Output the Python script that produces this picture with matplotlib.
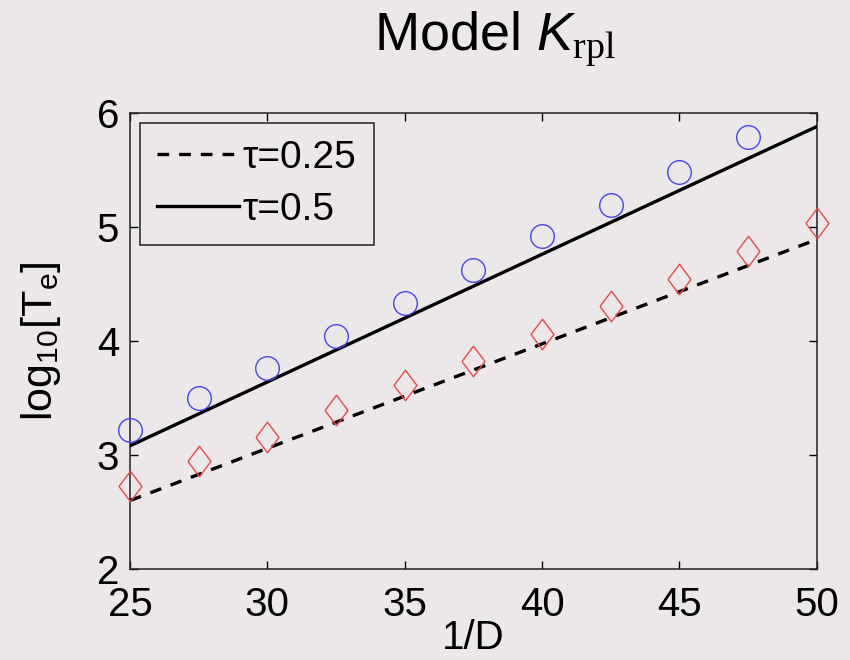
import numpy as np
import matplotlib
matplotlib.use("Agg")
import matplotlib.pyplot as plt

# ── Datos ──────────────────────────────────────────────────────────────────
inv_d_circ = [25, 27.5, 30, 32.5, 35, 37.5, 40, 42.5, 45, 47.5]
te_circ    = [3.22, 3.50, 3.76, 4.04, 4.33, 4.62, 4.92, 5.19, 5.48, 5.79]

inv_d_diam = [25, 27.5, 30, 32.5, 35, 37.5, 40, 42.5, 45, 47.5, 50]
te_diam    = [2.73, 2.95, 3.16, 3.39, 3.61, 3.82, 4.06, 4.31, 4.54, 4.79, 5.03]

line_x      = [25, 50]
line_tau050 = [3.08, 5.88]
line_tau025 = [2.60, 4.89]

xticks = [25, 30, 35, 40, 45, 50]
yticks = [2, 3, 4, 5, 6]

# ── Estilo ─────────────────────────────────────────────────────────────────
BG = "#ece8ea"
plt.rcParams["font.family"] = ["Liberation Sans", "DejaVu Sans"]
plt.rcParams["mathtext.fontset"] = "custom"
plt.rcParams["mathtext.rm"] = "Liberation Sans"
plt.rcParams["mathtext.it"] = "Liberation Sans:italic"
plt.rcParams["mathtext.tt"] = "Liberation Serif"   # subíndice serif del título

fig = plt.figure(figsize=(8.5, 6.6), dpi=100, facecolor=BG)
ax = fig.add_axes([0.153, 0.138, 0.808, 0.691], facecolor=BG)

ax.plot(line_x, line_tau025, color="black", lw=2.4, ls=(0, (3.5, 3)),
        label="τ=0.25", zorder=3)
ax.plot(line_x, line_tau050, color="black", lw=2.4, ls="-",
        label="τ=0.5", zorder=3)

ax.plot(inv_d_circ, te_circ, ls="none", marker="o", ms=17, mfc="none",
        mec="#4646e6", mew=1.0, zorder=4, clip_on=False)
diamond = [(-0.75, 0), (0, 1), (0.75, 0), (0, -1), (-0.75, 0)]
ax.plot(inv_d_diam, te_diam, ls="none", marker=diamond, ms=22, mfc="none",
        mec="#e34a4a", mew=1.0, zorder=4, clip_on=False)

ax.set_xlim(25, 50)
ax.set_ylim(2, 6)
ax.set_xticks(xticks)
ax.set_yticks(yticks)
ax.tick_params(direction="in", length=6, width=1, top=True, right=True,
               labelsize=29)
ax.tick_params(axis="x", pad=12)
ax.tick_params(axis="y", pad=8)
for sp in ax.spines.values():
    sp.set_linewidth(1.1)
    sp.set_color("#222222")

ax.set_xlabel("1/D", fontsize=29, labelpad=-3)
ax.set_ylabel(r"log$_{\mathrm{10}}$[T$_{\mathrm{e}}$]", fontsize=31, labelpad=24)

leg = ax.legend(loc="upper left", fontsize=28, frameon=True, fancybox=False,
                edgecolor="#222222", facecolor=BG, framealpha=1,
                handlelength=2.1, handletextpad=0.1, borderpad=0.45,
                labelspacing=0.4, borderaxespad=0.25)
leg.get_frame().set_linewidth(1.1)

fig.text(0.582, 1 - 38 / 660, r"Model $\mathit{K}_{\mathtt{rpl}}$", fontsize=39,
         ha="center", va="center")

fig.savefig("out.png", dpi=100, facecolor=BG)
